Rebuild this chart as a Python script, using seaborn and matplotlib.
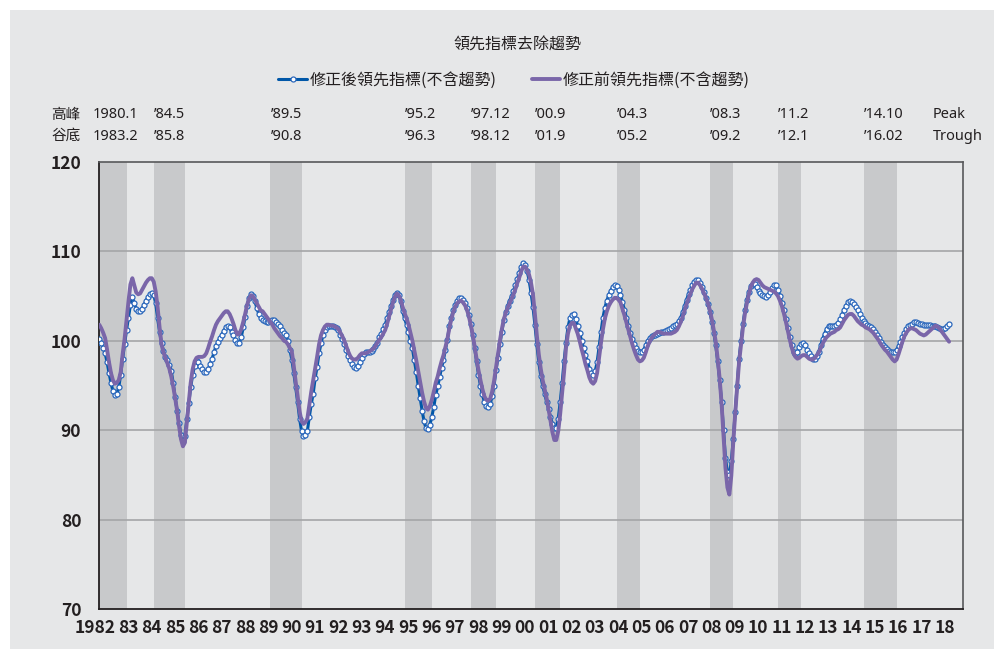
import numpy as np
import pandas as pd
import matplotlib
matplotlib.use("Agg")
import matplotlib.pyplot as plt
from matplotlib.patches import Rectangle
import seaborn as sns


# =============================================================================
# Data (monthly, Jan 1982 - Jun 2018)
# =============================================================================
start_year = 1982

## 修正後領先指標(不含趨勢)
after_rev = [
    100.2, 99.8, 99.2, 98.6, 97.6, 96.4, 95.3, 94.4, 93.9, 94.0, 94.8, 96.2,          # 1982
    98.0, 99.6, 101.2, 102.6, 104.0, 104.9, 104.2, 103.6, 103.3, 103.3, 103.6, 104.0,  # 1983
    104.5, 104.9, 105.2, 105.3, 105.1, 104.2, 102.5, 101.0, 99.7, 98.9, 98.2, 97.8,    # 1984
    97.3, 96.6, 95.3, 93.7, 92.2, 90.8, 89.5, 88.8, 89.4, 91.2, 93.0, 94.8,            # 1985
    96.2, 97.2, 97.7, 97.6, 97.2, 96.8, 96.5, 96.5, 96.8, 97.4, 98.0, 98.7,            # 1986
    99.4, 99.9, 100.3, 100.7, 101.1, 101.5, 101.7, 101.5, 101.0, 100.6, 100.1, 99.7,   # 1987
    99.8, 100.4, 101.5, 102.7, 103.9, 104.8, 105.2, 105.0, 104.4, 103.7, 103.0, 102.5, # 1988
    102.3, 102.2, 102.1, 102.1, 102.2, 102.3, 102.3, 102.1, 101.9, 101.6, 101.2, 100.9,  # 1989
    100.6, 100.0, 99.0, 97.9, 96.4, 94.8, 93.1, 91.3, 89.9, 89.4, 89.5, 89.9,          # 1990
    91.5, 92.9, 94.1, 95.8, 97.1, 98.6, 99.7, 100.6, 101.2, 101.5, 101.7, 101.7,       # 1991
    101.6, 101.5, 101.4, 101.2, 100.7, 100.2, 99.6, 99.0, 98.3, 97.8, 97.4, 97.1,      # 1992
    97.0, 97.2, 97.6, 98.1, 98.5, 98.7, 98.8, 98.8, 98.9, 99.1, 99.4, 99.8,            # 1993
    100.4, 100.8, 101.3, 101.8, 102.5, 103.2, 103.9, 104.6, 105.1, 105.4, 105.1, 104.4,  # 1994
    103.3, 102.5, 101.8, 101.0, 100.0, 99.2, 97.8, 96.5, 95.0, 93.6, 92.2, 91.0,       # 1995
    90.2, 90.1, 90.6, 91.5, 92.6, 93.9, 94.9, 95.9, 97.0, 97.9, 99.0, 100.1,           # 1996
    101.6, 102.6, 103.4, 104.0, 104.5, 104.8, 104.8, 104.6, 104.2, 103.7, 102.9, 101.9,  # 1997
    100.6, 99.2, 97.7, 96.2, 95.0, 94.0, 93.2, 92.7, 92.6, 92.9, 93.8, 95.0,           # 1998
    96.7, 98.1, 99.6, 101.0, 102.3, 103.2, 103.9, 104.5, 105.0, 105.6, 106.2, 106.9,   # 1999
    107.6, 108.3, 108.7, 108.5, 107.8, 106.8, 105.4, 103.8, 101.8, 99.6, 97.6, 96.1,   # 2000
    95.0, 94.1, 93.2, 92.4, 91.5, 90.7, 90.2, 90.3, 91.3, 93.1, 95.3, 97.7,            # 2001
    99.8, 101.5, 102.5, 102.9, 103.0, 102.4, 101.7, 100.9, 100.0, 99.2, 98.4, 97.7,    # 2002
    96.9, 96.4, 96.2, 96.6, 97.6, 99.3, 101.0, 102.6, 103.7, 104.5, 105.1, 105.6,      # 2003
    106.0, 106.2, 106.1, 105.7, 105.1, 104.3, 103.5, 102.6, 101.7, 100.9, 100.2, 99.6,   # 2004
    99.2, 98.9, 98.8, 98.8, 99.0, 99.5, 100.0, 100.3, 100.5, 100.6, 100.7, 100.8,      # 2005
    100.9, 101.0, 101.0, 101.1, 101.2, 101.3, 101.4, 101.6, 101.8, 101.9, 102.2, 102.6,  # 2006
    103.2, 103.9, 104.6, 105.2, 105.7, 106.2, 106.6, 106.8, 106.8, 106.5, 106.0, 105.5,  # 2007
    104.8, 104.1, 103.2, 102.1, 100.9, 99.5, 97.7, 95.6, 93.2, 90.0, 86.9, 85.3,       # 2008
    85.0, 86.5, 89.0, 92.0, 95.0, 98.0, 100.0, 101.9, 103.4, 104.6, 105.5, 106.1,      # 2009
    106.4, 106.3, 106.0, 105.6, 105.3, 105.1, 105.0, 104.9, 105.1, 105.5, 105.9, 106.2,  # 2010
    106.2, 105.7, 105.0, 104.2, 103.4, 102.4, 101.4, 100.4, 99.5, 98.8, 98.5, 98.8,    # 2011
    99.3, 99.6, 99.7, 99.5, 99.0, 98.6, 98.3, 98.0, 98.0, 98.3, 98.8, 99.5,            # 2012
    100.2, 100.8, 101.3, 101.6, 101.7, 101.7, 101.7, 101.8, 102.0, 102.4, 102.9, 103.5,  # 2013
    103.9, 104.3, 104.4, 104.3, 104.1, 103.8, 103.4, 103.0, 102.6, 102.2, 102.0, 101.8,  # 2014
    101.7, 101.5, 101.3, 101.0, 100.7, 100.3, 99.9, 99.5, 99.3, 99.1, 98.9, 98.8,      # 2015
    98.8, 98.8, 99.0, 99.4, 99.9, 100.4, 100.9, 101.3, 101.6, 101.8, 101.9, 102.1,     # 2016
    102.1, 102.0, 101.9, 101.9, 101.8, 101.8, 101.8, 101.8, 101.7, 101.7, 101.6, 101.5,  # 2017
    101.4, 101.3, 101.3, 101.4, 101.6, 101.9,                                          # 2018
]

## 修正前領先指標(不含趨勢)
before_rev = [
    101.8, 101.4, 100.9, 100.3, 99.0, 97.6, 96.4, 95.6, 95.2, 95.3, 95.6, 96.5,        # 1982
    98.5, 100.2, 102.3, 104.4, 106.3, 107.0, 106.2, 105.4, 105.2, 105.3, 105.7, 106.1,  # 1983
    106.5, 106.8, 107.0, 107.0, 106.6, 105.5, 103.7, 101.5, 99.6, 98.7, 98.1, 97.5,    # 1984
    96.9, 96.0, 94.9, 93.6, 92.2, 90.5, 89.0, 88.2, 88.6, 90.8, 93.0, 95.3,            # 1985
    96.8, 97.7, 98.1, 98.2, 98.2, 98.2, 98.3, 98.6, 99.2, 99.9, 100.5, 101.2,          # 1986
    101.8, 102.2, 102.5, 102.8, 103.1, 103.3, 103.3, 103.0, 102.5, 101.9, 101.2, 100.7,  # 1987
    100.8, 101.3, 102.1, 103.0, 104.0, 104.7, 105.1, 105.0, 104.6, 104.2, 103.8, 103.4,  # 1988
    103.3, 103.0, 102.7, 102.4, 102.1, 101.8, 101.4, 101.1, 100.8, 100.5, 100.3, 100.0,  # 1989
    99.9, 99.6, 99.2, 98.8, 97.2, 95.4, 93.8, 92.1, 91.0, 90.7, 90.9, 91.3,            # 1990
    92.8, 94.3, 95.6, 96.9, 98.2, 99.6, 100.6, 101.2, 101.6, 101.8, 101.8, 101.7,      # 1991
    101.7, 101.6, 101.5, 101.3, 100.9, 100.5, 100.0, 99.4, 98.8, 98.3, 98.0, 97.9,     # 1992
    97.9, 98.1, 98.4, 98.6, 98.6, 98.6, 98.7, 98.8, 99.0, 99.1, 99.4, 99.8,            # 1993
    100.1, 100.4, 100.8, 101.2, 101.9, 102.7, 103.5, 104.3, 104.9, 105.3, 105.1, 104.6,  # 1994
    103.8, 103.1, 102.5, 101.8, 100.9, 100.0, 98.9, 97.8, 96.6, 95.4, 94.2, 93.2,      # 1995
    92.5, 92.3, 92.7, 93.4, 94.3, 95.3, 96.0, 96.9, 97.7, 98.4, 99.3, 100.2,           # 1996
    101.4, 102.4, 103.2, 103.8, 104.2, 104.4, 104.5, 104.3, 104.0, 103.5, 102.8, 101.8,  # 1997
    100.7, 99.4, 98.0, 96.7, 95.6, 94.6, 93.8, 93.4, 93.3, 93.5, 94.3, 95.5,           # 1998
    97.0, 98.5, 100.0, 101.3, 102.4, 103.1, 103.7, 104.2, 104.7, 105.2, 105.8, 106.5,  # 1999
    107.1, 107.8, 108.3, 108.3, 107.9, 107.4, 106.5, 105.2, 103.0, 100.6, 98.5, 96.9,  # 2000
    95.6, 94.6, 93.6, 92.4, 91.1, 89.8, 88.9, 88.9, 89.9, 91.8, 94.2, 96.5,            # 2001
    99.2, 100.8, 101.7, 102.0, 102.0, 101.4, 100.8, 100.0, 99.1, 98.3, 97.4, 96.7,     # 2002
    95.9, 95.4, 95.2, 95.5, 96.4, 98.1, 99.8, 101.3, 102.5, 103.3, 103.9, 104.3,       # 2003
    104.6, 104.8, 104.8, 104.6, 104.3, 103.6, 102.9, 102.1, 101.3, 100.5, 99.7, 99.0,  # 2004
    98.4, 97.9, 97.7, 97.8, 98.1, 98.7, 99.4, 99.9, 100.3, 100.6, 100.8, 101.0,        # 2005
    101.0, 100.9, 100.8, 100.8, 100.8, 100.8, 100.8, 100.9, 101.0, 101.2, 101.6, 102.1,  # 2006
    102.7, 103.4, 104.1, 104.7, 105.3, 105.8, 106.2, 106.5, 106.5, 106.2, 105.8, 105.3,  # 2007
    104.8, 104.2, 103.4, 102.4, 101.2, 99.9, 98.0, 95.8, 93.0, 89.5, 85.8, 83.6,       # 2008
    82.8, 84.9, 88.6, 91.8, 94.8, 97.6, 99.6, 101.5, 103.0, 104.2, 105.2, 106.0,       # 2009
    106.5, 106.8, 106.9, 106.8, 106.5, 106.2, 106.0, 105.9, 105.8, 105.7, 105.6, 105.5,  # 2010
    105.3, 105.0, 104.5, 103.9, 103.1, 102.2, 101.2, 100.2, 99.3, 98.6, 98.2, 98.0,    # 2011
    98.1, 98.3, 98.4, 98.4, 98.2, 98.0, 97.9, 97.9, 98.1, 98.4, 98.7, 99.2,            # 2012
    99.7, 100.1, 100.4, 100.6, 100.8, 100.9, 101.0, 101.2, 101.3, 101.5, 101.9, 102.3,  # 2013
    102.6, 102.9, 103.0, 103.0, 102.8, 102.5, 102.2, 102.0, 101.8, 101.7, 101.5, 101.4,  # 2014
    101.3, 101.1, 100.9, 100.6, 100.3, 100.0, 99.6, 99.3, 99.0, 98.8, 98.5, 98.2,      # 2015
    97.9, 97.7, 97.9, 98.5, 99.2, 99.9, 100.5, 100.9, 101.2, 101.4, 101.4, 101.3,      # 2016
    101.2, 101.0, 100.8, 100.7, 100.6, 100.7, 100.9, 101.1, 101.3, 101.5, 101.7, 101.6,  # 2017
    101.4, 101.1, 100.8, 100.5, 100.2, 99.9,                                           # 2018
]

## Business cycle peaks / troughs (year, month)
peaks = [(1980, 1), (1984, 5), (1989, 5), (1995, 2), (1997, 12),
         (2000, 9), (2004, 3), (2008, 3), (2011, 2), (2014, 10)]
troughs = [(1983, 2), (1985, 8), (1990, 8), (1996, 3), (1998, 12),
           (2001, 9), (2005, 2), (2009, 2), (2012, 1), (2016, 2)]
peak_labels = ['1980.1', '’84.5', '’89.5', '’95.2', '’97.12',
               '’00.9', '’04.3', '’08.3', '’11.2', '’14.10']
trough_labels = ['1983.2', '’85.8', '’90.8', '’96.3', '’98.12',
                 '’01.9', '’05.2', '’09.2', '’12.1', '’16.02']

year_labels = ['1982'] + [f'{y % 100:02d}' for y in range(1983, 2019)]
y_ticks = [70, 80, 90, 100, 110, 120]

title = '領先指標去除趨勢'
name_after = '修正後領先指標(不含趨勢)'
name_before = '修正前領先指標(不含趨勢)'

# =============================================================================
# Style
# =============================================================================
BG = '#E6E7E8'
BAND = '#C8C9CB'
GRID = '#A5A6A8'
BLUE = '#0057A8'
BLUE_EDGE = '#2C68BC'
PURPLE = '#7A66A9'
TEXT = '#231F20'

sns.set_style('white')
plt.rcParams['font.family'] = ['Noto Sans CJK TC', 'DejaVu Sans']
plt.rcParams['text.color'] = TEXT
LABEL_FONT = ['Noto Sans', 'Noto Sans CJK TC', 'DejaVu Sans']

df = pd.DataFrame({
    't': start_year + np.arange(len(after_rev)) / 12,
    'after': after_rev,
    'before': before_rev,
})

W, H = 995, 649
fig = plt.figure(figsize=(W / 100, H / 100), dpi=100, facecolor='white')
fig.patches.append(Rectangle((10 / W, 0), 1, 1 - 10 / H, transform=fig.transFigure,
                             facecolor=BG, edgecolor='none', zorder=-10))

ax = fig.add_axes([99.3 / W, 1 - 609 / H, (962.7 - 99.3) / W, (609 - 162) / H])
ax.set_facecolor(BG)

## Recession bands
for (py, pm), (ty, tm) in zip(peaks, troughs):
    ax.axvspan(py + (pm - 1) / 12, ty + tm / 12, color=BAND, lw=0, zorder=0)

## Gridlines
for v in y_ticks[1:-1]:
    ax.axhline(v, color=GRID, lw=1.2, zorder=1)

## Lines
sns.lineplot(data=df, x='t', y='after', ax=ax, color=BLUE, lw=2.2,
             marker='o', markersize=3.6, markerfacecolor='white',
             markeredgecolor=BLUE_EDGE, markeredgewidth=0.9,
             label=name_after, zorder=3)
sns.lineplot(data=df, x='t', y='before', ax=ax, color=PURPLE, lw=2.8,
             label=name_before, zorder=4)

ax.set_xlim(1982, 2019)
ax.set_ylim(70, 120)
ax.set_xlabel('')
ax.set_ylabel('')

## Spines
for side in ['left', 'bottom']:
    ax.spines[side].set_color(TEXT)
    ax.spines[side].set_linewidth(1.3)
for side in ['top', 'right']:
    ax.spines[side].set_color('#58595B')
    ax.spines[side].set_linewidth(1.2)

## Ticks
ax.set_yticks(y_ticks)
ax.set_yticklabels([str(v) for v in y_ticks])
ax.tick_params(axis='y', direction='in', length=5, width=1, color='#555555',
               labelsize=12.5, pad=13, labelcolor=TEXT)
for lbl in ax.get_yticklabels():
    lbl.set_fontweight('bold')

years = np.arange(1982, 2020)
ax.set_xticks(years)
ax.set_xticklabels([])
ax.tick_params(axis='x', which='major', direction='in', length=6, width=1, color=TEXT)
ax.set_xticks(np.arange(1982, 2019) + 0.68, minor=True)
ax.set_xticklabels(year_labels, minor=True)
ax.tick_params(axis='x', which='minor', length=0, labelsize=12.5, pad=7, labelcolor=TEXT)
for lbl in ax.get_xticklabels(minor=True):
    lbl.set_ha('right')
    lbl.set_fontweight('bold')

## Peak / trough labels
tr = ax.get_xaxis_transform()
y_peak = (609 - 115) / (609 - 162)
y_trough = (609 - 136) / (609 - 162)
lab_kw = dict(transform=tr, ha='left', va='center', fontsize=10.5, family=LABEL_FONT)
ax.text(1979.93, y_peak, '高峰', **lab_kw)
ax.text(1979.93, y_trough, '谷底', **lab_kw)
for i, ((py, pm), pl, tl) in enumerate(zip(peaks, peak_labels, trough_labels)):
    x = py + (pm - 1) / 12 if i > 0 else 1981.73
    ax.text(x, y_peak, pl, **lab_kw)
    ax.text(x, y_trough, tl, **lab_kw)
ax.text(2017.73, y_peak, 'Peak', **lab_kw)
ax.text(2017.73, y_trough, 'Trough', **lab_kw)

## Title and legend
fig.text(518 / W, 1 - 45 / H, title, ha='center', va='center', fontsize=11.5)
ax.legend(loc='center', bbox_to_anchor=(514 / W, 1 - 80 / H),
          bbox_transform=fig.transFigure, ncol=2, frameon=False,
          fontsize=11.5, handlelength=1.8, handletextpad=0.15,
          columnspacing=2.2)

fig.savefig('out.png', dpi=100, facecolor='white')
